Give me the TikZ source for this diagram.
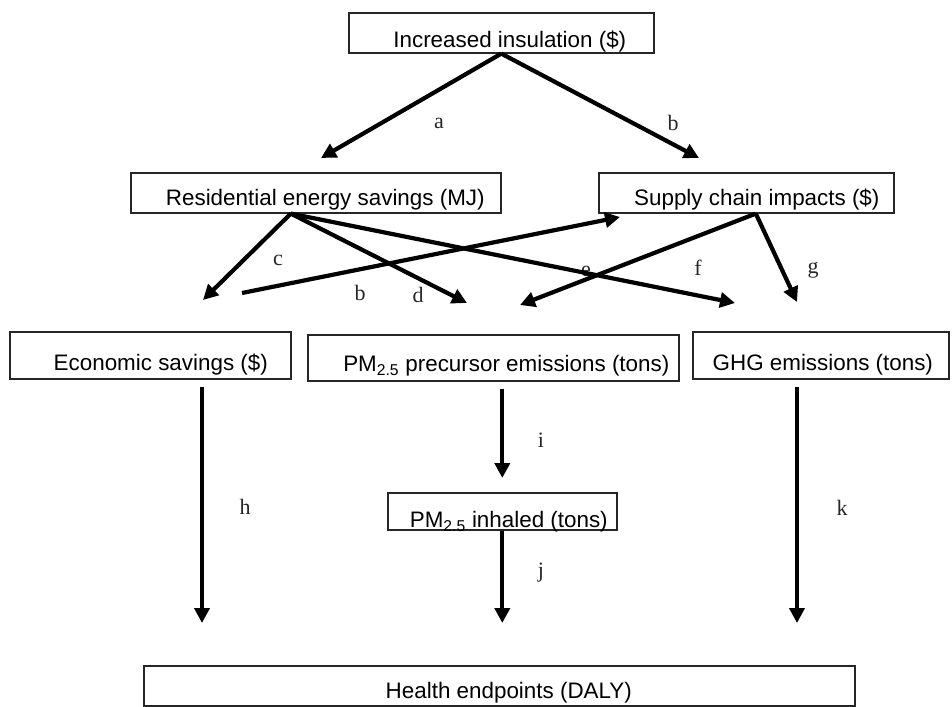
\documentclass[tikz,border=0pt]{standalone}
\usepackage{fontspec}
\setmainfont{Liberation Sans}
\newfontfamily\labfont{Liberation Serif}
\usetikzlibrary{arrows.meta,calc}
\begin{document}
\begin{tikzpicture}[x=1pt,y=-1pt,
  box/.style={draw=black!85, line width=1.6pt, inner xsep=0pt, inner ysep=0pt, anchor=north west,
    font=\fontsize{22.4}{24}\selectfont},
  arr/.style={line width=4.2pt, -{Triangle[length=15pt,width=15pt]}},
  lab/.style={font=\labfont\fontsize{22}{24}\selectfont, inner sep=0pt, text=black!85}]
\useasboundingbox (0,0) rectangle (952,706);

% boxes
\node[box, minimum width=305pt, text height=35pt, text depth=5pt] (ins) at (348,12) {\hspace*{17pt}Increased insulation (\$)};
\node[box, minimum width=370pt, text height=33pt, text depth=7pt] (res) at (130,172) {\hspace*{19pt}Residential energy savings (MJ)};
\node[box, minimum width=295pt, text height=33pt, text depth=7pt] (sup) at (598,172) {\hspace*{21pt}Supply chain impacts (\$)};
\node[box, minimum width=281pt, text height=39pt, text depth=8pt] (econ) at (9,331) {\hspace*{21pt}Economic savings (\$)};
\node[box, minimum width=371pt, text height=37pt, text depth=9pt] (pm) at (307,334) {\hspace*{26pt}PM\textsubscript{2.5} precursor emissions (tons)};
\node[box, minimum width=256pt, text height=39pt, text depth=8pt] (ghg) at (692,331) {\hspace*{4pt}GHG emissions (tons)};
\node[box, minimum width=229pt, text height=35pt, text depth=2pt] (inh) at (387,492) {\hspace*{13pt}PM\textsubscript{2.5} inhaled (tons)};
\node[box, minimum width=711pt, text height=33pt, text depth=7pt] (health) at (143,665) {\hspace*{19pt}Health endpoints (DALY)};

% free ends
\coordinate (aend) at (321,158);
\coordinate (bend) at (699,158);
\coordinate (resout) at ([xshift=-25pt]res.south);
\coordinate (supout) at ([xshift=9.5pt]sup.south);
\coordinate (cend) at (203,300);
\coordinate (dend) at (467,303);
\coordinate (eend) at (735,303);
\coordinate (bbstart) at (242,293);
\coordinate (bbend) at (620,217);
\coordinate (fend) at (520,305);
\coordinate (gend) at (797,302);
\coordinate (hend) at (202,623);
\coordinate (kend) at (797,623);
\coordinate (jend) at (500,623);

% labels
\node[lab] (la) at (439,123) {a};
\node[lab] (lb) at (673,123) {b};
\node[lab] (lc) at (278,260) {c};
\node[lab] (lb2) at (360,293) {b};
\node[lab] (ld) at (418,295) {d};
\node[lab] (le) at (586,271) {e};
\node[lab] (lf) at (698,268) {f};
\node[lab] (lg) at (813,270) {g};
\node[lab] (lh) at (245,507) {h};
\node[lab] (li) at (541,440) {i};
\node[lab] (lj) at (541,573) {j};
\node[lab] (lk) at (842,508) {k};

% connectors
\draw[arr] (ins.south) -- (aend);
\draw[arr] (ins.south) -- (bend);
\draw[arr] (resout) -- (cend);
\draw[arr] (resout) -- (dend);
\draw[arr] (resout) -- (eend);
\draw[arr] (bbstart) -- (bbend);
\draw[arr] (supout) -- (fend);
\draw[arr] (supout) -- (gend);
\draw[arr, shorten <=7pt] (econ.south -| hend) -- (hend);
\draw[arr, shorten <=7pt, shorten >=14pt] (pm.south -| inh.north) -- (inh.north);
\draw[arr] (inh.south) -- (inh.south |- jend);
\draw[arr, shorten <=7pt] (ghg.south -| kend) -- (kend);
\end{tikzpicture}
\end{document}
